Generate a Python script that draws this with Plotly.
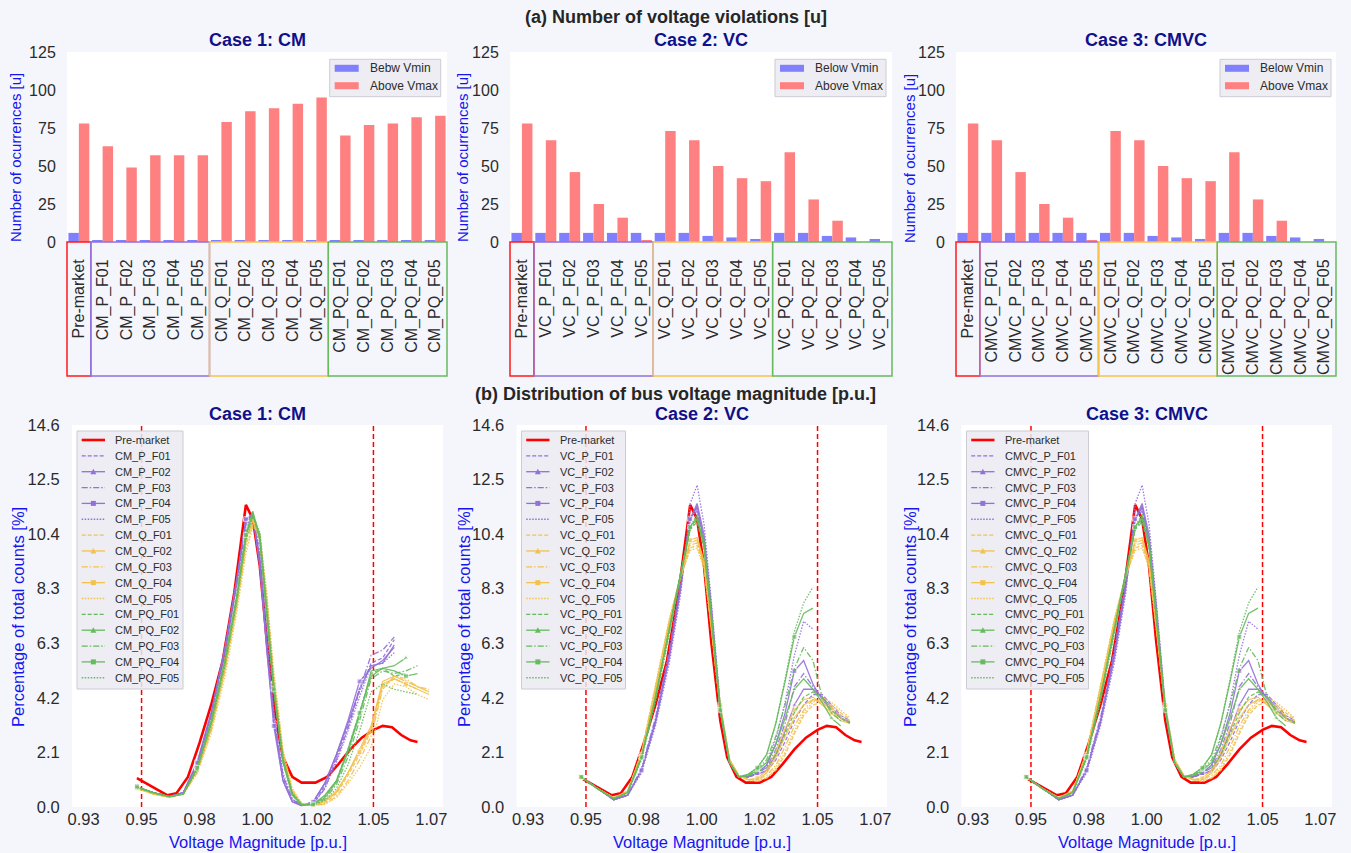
import plotly.graph_objects as go

W, H = 1351, 853

# ---------------- (a) bar data ----------------
CM_CATS = ["Pre-market", "CM_P_F01", "CM_P_F02", "CM_P_F03", "CM_P_F04", "CM_P_F05",
           "CM_Q_F01", "CM_Q_F02", "CM_Q_F03", "CM_Q_F04", "CM_Q_F05",
           "CM_PQ_F01", "CM_PQ_F02", "CM_PQ_F03", "CM_PQ_F04", "CM_PQ_F05"]
VC_CATS = ["Pre-market", "VC_P_F01", "VC_P_F02", "VC_P_F03", "VC_P_F04", "VC_P_F05",
           "VC_Q_F01", "VC_Q_F02", "VC_Q_F03", "VC_Q_F04", "VC_Q_F05",
           "VC_PQ_F01", "VC_PQ_F02", "VC_PQ_F03", "VC_PQ_F04", "VC_PQ_F05"]
CMVC_CATS = ["Pre-market", "CMVC_P_F01", "CMVC_P_F02", "CMVC_P_F03", "CMVC_P_F04", "CMVC_P_F05",
             "CMVC_Q_F01", "CMVC_Q_F02", "CMVC_Q_F03", "CMVC_Q_F04", "CMVC_Q_F05",
             "CMVC_PQ_F01", "CMVC_PQ_F02", "CMVC_PQ_F03", "CMVC_PQ_F04", "CMVC_PQ_F05"]

CM_BELOW = [6, 1, 1, 1, 1, 1, 1, 1, 1, 1, 1, 1, 1, 1, 1, 1]
CM_ABOVE = [78, 63, 49, 57, 57, 57, 79, 86, 88, 91, 95, 70, 77, 78, 82, 83]
VC_BELOW = [6, 6, 6, 6, 6, 6, 6, 6, 4, 3, 2, 6, 6, 4, 3, 2]
VC_ABOVE = [78, 67, 46, 25, 16, 1, 73, 67, 50, 42, 40, 59, 28, 14, 0, 0]
CMVC_BELOW = [6, 6, 6, 6, 6, 6, 6, 6, 4, 3, 2, 6, 6, 4, 3, 2]
CMVC_ABOVE = [78, 67, 46, 25, 16, 1, 73, 67, 50, 42, 40, 59, 28, 14, 0, 0]

BAR_Y_TICKS = [0, 25, 50, 75, 100, 125]

# ---------------- (b) distribution data ----------------
PRE_X = [0.948, 0.955, 0.961, 0.965, 0.970, 0.975, 0.980, 0.985, 0.990, 0.995, 0.998, 1.001,
         1.004, 1.008, 1.011, 1.015, 1.019, 1.025, 1.030, 1.035, 1.040, 1.045, 1.050, 1.054,
         1.058, 1.062, 1.066, 1.069]
PRE_Y = [1.1, 0.75, 0.45, 0.52, 1.15, 2.45, 3.9, 5.6, 8.2, 11.55, 11.0, 9.2,
         6.4, 3.3, 1.9, 1.15, 0.93, 0.93, 1.15, 1.65, 2.2, 2.65, 2.95, 3.1,
         3.05, 2.75, 2.55, 2.48]

X_CM = [0.948, 0.955, 0.962, 0.968, 0.974, 0.980, 0.986, 0.991, 0.995, 0.998, 1.001, 1.004,
        1.007, 1.011, 1.015, 1.019, 1.024, 1.029, 1.034, 1.039, 1.044, 1.049, 1.054, 1.059,
        1.064, 1.069, 1.074]
CM_P_F01 = [0.75, 0.55, 0.40, 0.55, 1.6, 3.5, 6.0, 8.6, 10.9, 11.2, 9.4, 6.2, 3.4, 1.1, 0.25, 0.06, 0.15, 0.8, 1.9, 3.1, 4.4, 5.5, 5.7, 6.4, None, None, None]
CM_P_F02 = [0.75, 0.55, 0.40, 0.55, 1.7, 3.6, 6.1, 8.7, 11.0, 11.1, 9.2, 6.0, 3.3, 1.0, 0.2, 0.05, 0.2, 0.9, 2.0, 3.2, 4.5, 5.4, 5.5, 6.2, None, None, None]
CM_P_F03 = [0.75, 0.55, 0.40, 0.55, 1.6, 3.5, 6.0, 8.5, 10.8, 11.3, 9.6, 6.4, 3.6, 1.2, 0.3, 0.07, 0.12, 0.7, 1.8, 3.0, 4.5, 5.8, 6.0, 6.5, None, None, None]
CM_P_F04 = [0.78, 0.55, 0.40, 0.55, 1.7, 3.6, 6.1, 8.6, 11.0, 11.2, 9.3, 6.0, 3.1, 1.0, 0.2, 0.06, 0.2, 0.9, 2.0, 3.3, 4.8, 5.3, 5.6, 6.1, None, None, None]
CM_P_F05 = [0.75, 0.55, 0.40, 0.55, 1.6, 3.4, 5.9, 8.4, 10.7, 11.2, 9.8, 6.6, 3.7, 1.3, 0.3, 0.08, 0.12, 0.7, 1.7, 2.9, 4.2, 5.4, 5.5, 5.9, None, None, None]
CM_Q_F01 = [0.72, 0.50, 0.38, 0.50, 1.4, 3.1, 5.4, 7.8, 10.0, 10.9, 10.2, 7.6, 4.7, 1.9, 0.55, 0.12, 0.06, 0.15, 0.5, 1.2, 2.0, 2.9, 4.6, 4.9, 4.7, 4.5, None]
CM_Q_F02 = [0.72, 0.50, 0.38, 0.50, 1.4, 3.0, 5.3, 7.7, 10.1, 11.0, 10.3, 7.8, 4.8, 2.0, 0.6, 0.12, 0.07, 0.2, 0.55, 1.3, 2.2, 3.1, 4.8, 5.0, 4.8, 4.6, 4.4]
CM_Q_F03 = [0.72, 0.50, 0.38, 0.50, 1.3, 2.9, 5.2, 7.6, 9.9, 10.8, 10.4, 8.0, 5.0, 2.1, 0.65, 0.14, 0.06, 0.12, 0.4, 1.0, 1.8, 2.7, 4.5, 5.0, 4.9, 4.6, 4.5]
CM_Q_F04 = [0.72, 0.50, 0.38, 0.50, 1.4, 3.0, 5.3, 7.8, 10.2, 11.0, 10.2, 7.7, 4.7, 1.9, 0.55, 0.12, 0.08, 0.25, 0.6, 1.3, 2.1, 3.0, 4.7, 4.9, 4.7, 4.5, 4.3]
CM_Q_F05 = [0.70, 0.50, 0.38, 0.48, 1.3, 2.8, 5.0, 7.4, 9.7, 10.7, 10.5, 8.2, 5.2, 2.2, 0.7, 0.15, 0.05, 0.1, 0.35, 0.9, 1.5, 2.3, 4.1, 4.7, 4.6, 4.3, 4.1]
CM_PQ_F01 = [0.75, 0.55, 0.40, 0.50, 1.5, 3.3, 5.7, 8.1, 10.5, 11.2, 10.2, 7.3, 4.4, 1.7, 0.45, 0.08, 0.1, 0.4, 1.0, 2.2, 3.6, 5.1, 5.3, 5.0, 5.1, None, None]
CM_PQ_F02 = [0.75, 0.55, 0.40, 0.50, 1.5, 3.2, 5.6, 8.0, 10.4, 11.3, 10.3, 7.4, 4.5, 1.8, 0.5, 0.08, 0.1, 0.35, 0.95, 2.1, 3.5, 5.2, 5.3, 5.4, 5.7, None, None]
CM_PQ_F03 = [0.75, 0.55, 0.40, 0.50, 1.5, 3.2, 5.5, 7.9, 10.3, 11.2, 10.4, 7.6, 4.6, 1.8, 0.5, 0.09, 0.08, 0.3, 0.85, 1.9, 3.3, 4.9, 5.2, 5.1, 5.2, 5.4, None]
CM_PQ_F04 = [0.78, 0.55, 0.40, 0.50, 1.5, 3.3, 5.6, 8.0, 10.4, 11.2, 10.3, 7.4, 4.5, 1.7, 0.45, 0.08, 0.1, 0.45, 1.0, 2.2, 3.6, 5.0, 5.3, 5.2, 5.0, 5.1, None]
CM_PQ_F05 = [0.75, 0.55, 0.40, 0.50, 1.4, 3.1, 5.4, 7.8, 10.2, 11.1, 10.5, 7.8, 4.8, 1.9, 0.55, 0.1, 0.07, 0.25, 0.7, 1.6, 2.9, 4.4, 4.7, 4.5, 4.4, 4.3, None]

X_VC = [0.948, 0.955, 0.962, 0.968, 0.974, 0.980, 0.986, 0.991, 0.995, 0.998, 1.001, 1.004,
        1.008, 1.012, 1.016, 1.020, 1.024, 1.028, 1.032, 1.036, 1.040, 1.044, 1.048, 1.052,
        1.056, 1.060, 1.064]
VC_P_F01 = [1.15, 0.70, 0.28, 0.45, 1.4, 3.3, 5.9, 8.6, 11.0, 11.4, 10.1, 7.4, 3.6, 1.7, 1.15, 1.15, 1.25, 1.35, 1.8, 2.5, 3.3, 3.9, 4.3, 4.3, 3.9, 3.5, 3.3]
VC_P_F02 = [1.15, 0.70, 0.28, 0.45, 1.4, 3.3, 5.8, 8.5, 11.0, 11.5, 10.2, 7.6, 3.7, 1.7, 1.15, 1.15, 1.25, 1.4, 2.0, 2.9, 3.9, 4.5, 4.5, 4.2, 3.8, 3.4, 3.25]
VC_P_F03 = [1.15, 0.70, 0.28, 0.45, 1.5, 3.4, 6.0, 8.7, 11.1, 11.3, 10.0, 7.3, 3.6, 1.7, 1.15, 1.15, 1.3, 1.5, 2.2, 3.2, 4.6, 5.1, 4.6, 4.2, 3.8, 3.4, 3.2]
VC_P_F04 = [1.15, 0.70, 0.28, 0.45, 1.4, 3.2, 5.7, 8.4, 11.0, 11.6, 10.4, 7.8, 3.8, 1.8, 1.15, 1.15, 1.3, 1.6, 2.4, 3.6, 5.2, 5.6, 4.7, 4.1, 3.7, 3.4, 3.2]
VC_P_F05 = [1.15, 0.70, 0.28, 0.45, 1.3, 3.1, 5.5, 8.2, 11.6, 12.3, 10.8, 8.0, 3.9, 1.8, 1.15, 1.15, 1.3, 1.6, 2.6, 4.0, 5.8, 7.1, 6.8, None, None, None, None]
VC_Q_F01 = [1.15, 0.70, 0.35, 0.60, 2.0, 4.4, 7.0, 8.8, 9.9, 10.0, 9.2, 7.0, 3.8, 1.8, 1.2, 1.05, 1.0, 1.1, 1.4, 2.0, 2.8, 3.5, 3.9, 4.0, 3.9, 3.6, 3.35]
VC_Q_F02 = [1.15, 0.70, 0.35, 0.60, 2.0, 4.5, 7.1, 8.9, 10.1, 10.2, 9.3, 7.0, 3.8, 1.8, 1.2, 1.05, 1.05, 1.3, 1.9, 2.7, 3.4, 3.9, 4.1, 4.0, 3.7, 3.4, 3.2]
VC_Q_F03 = [1.15, 0.70, 0.35, 0.60, 2.1, 4.6, 7.1, 8.8, 10.0, 10.1, 9.2, 6.9, 3.7, 1.8, 1.2, 1.05, 1.05, 1.2, 1.6, 2.3, 3.1, 3.7, 4.1, 4.1, 3.8, 3.5, 3.3]
VC_Q_F04 = [1.15, 0.70, 0.35, 0.60, 2.0, 4.4, 7.0, 8.9, 10.2, 10.3, 9.4, 7.1, 3.9, 1.8, 1.2, 1.05, 1.1, 1.4, 2.1, 3.0, 3.7, 4.1, 4.2, 3.9, 3.6, 3.3, 3.2]
VC_Q_F05 = [1.15, 0.70, 0.35, 0.60, 2.1, 4.6, 7.2, 8.9, 9.8, 9.9, 9.1, 6.9, 3.7, 1.8, 1.2, 1.05, 1.0, 1.1, 1.5, 2.1, 2.9, 3.6, 4.0, 4.2, 4.0, 3.7, 3.4]
VC_PQ_F01 = [1.15, 0.70, 0.32, 0.55, 1.9, 4.2, 6.8, 9.0, 10.6, 10.9, 9.9, 7.3, 3.7, 1.7, 1.15, 1.2, 1.35, 1.5, 2.0, 2.8, 3.6, 4.2, 4.4, 4.2, 3.7, 3.4, 3.2]
VC_PQ_F02 = [1.15, 0.70, 0.32, 0.55, 1.9, 4.2, 6.8, 9.0, 10.7, 11.0, 10.0, 7.4, 3.7, 1.7, 1.15, 1.2, 1.4, 1.7, 2.4, 3.4, 4.5, 4.9, 4.5, 4.0, 3.4, 3.1, None]
VC_PQ_F03 = [1.15, 0.70, 0.32, 0.55, 1.9, 4.1, 6.7, 8.9, 10.6, 11.0, 10.1, 7.5, 3.8, 1.7, 1.15, 1.2, 1.45, 1.8, 2.7, 3.9, 5.3, 6.1, 5.6, 4.2, 3.6, 3.3, None]
VC_PQ_F04 = [1.15, 0.70, 0.32, 0.55, 1.9, 4.2, 6.8, 9.0, 10.7, 11.1, 10.0, 7.4, 3.7, 1.7, 1.15, 1.25, 1.5, 2.0, 3.2, 4.8, 6.5, 7.4, 7.6, None, None, None, None]
VC_PQ_F05 = [1.15, 0.70, 0.32, 0.55, 1.8, 4.0, 6.6, 8.9, 10.7, 11.2, 10.2, 7.6, 3.8, 1.7, 1.15, 1.25, 1.5, 2.0, 3.2, 4.9, 6.7, 7.8, 8.4, None, None, None, None]

CM_SERIES = [CM_P_F01, CM_P_F02, CM_P_F03, CM_P_F04, CM_P_F05,
             CM_Q_F01, CM_Q_F02, CM_Q_F03, CM_Q_F04, CM_Q_F05,
             CM_PQ_F01, CM_PQ_F02, CM_PQ_F03, CM_PQ_F04, CM_PQ_F05]
VC_SERIES = [VC_P_F01, VC_P_F02, VC_P_F03, VC_P_F04, VC_P_F05,
             VC_Q_F01, VC_Q_F02, VC_Q_F03, VC_Q_F04, VC_Q_F05,
             VC_PQ_F01, VC_PQ_F02, VC_PQ_F03, VC_PQ_F04, VC_PQ_F05]
# Case 3 distributions are read as the same as case 2
CMVC_SERIES = VC_SERIES

X_TICKS = [0.925, 0.95, 0.975, 1.0, 1.025, 1.05, 1.075]
X_TICK_TEXT = ["0.93", "0.95", "0.98", "1.00", "1.02", "1.05", "1.07"]
Y_TICKS = [0.0, 2.0857, 4.1714, 6.2571, 8.3429, 10.4286, 12.5143, 14.6]
Y_TICK_TEXT = ["0.0", "2.1", "4.2", "6.3", "8.3", "10.4", "12.5", "14.6"]
V_LIMITS = [0.95, 1.05]

# ---------------- styles ----------------
FONT = "Arial, Liberation Sans, sans-serif"
PAPER = "#F5F6FC"
TICK_C = "#2b2b2b"
TITLE_C = "#10108A"
AX_C = "#1515F0"
PURPLE = "#9370DB"
YELLOW = "#F2C24E"
GREEN = "#66BB5E"
BLUE_BAR = "#8080FF"
RED_BAR = "#FF8080"
LEG_BG = "rgba(234,234,241,0.85)"
LEG_BORDER = "#CCCCD4"
GROUP_COLORS = [PURPLE] * 5 + [YELLOW] * 5 + [GREEN] * 5
DASHES = ["4px,2px", "solid", "6px,2px,1.5px,2px", "solid", "1.5px,1.5px"]
SYMBOLS = [None, "triangle-up", None, "square", None]

TOP_DOM = [(67, 447), (510, 892), (956, 1336)]
BOT_DOM = [(72, 443), (516.5, 887), (961.5, 1332)]
TOP_Y = (52, 242)
BOT_Y = (425, 807)


def fx(p):
    return p / W


def fy(p):
    return 1 - p / H


def note(text, x, y, size, color, angle=0, xanchor="center"):
    return dict(text=text, x=fx(x), y=fy(y), xref="paper", yref="paper",
                xanchor=xanchor, yanchor="middle", showarrow=False,
                textangle=angle, font=dict(size=size, color=color, family=FONT))


fig = go.Figure()
layout_upd = {}
shapes = []
annotations = []


def legend_box(x0, y0, w, h):
    shapes.append(dict(type="rect", xref="paper", yref="paper", layer="above",
                       x0=fx(x0), x1=fx(x0 + w), y0=fy(y0 + h), y1=fy(y0),
                       fillcolor=LEG_BG, line=dict(color=LEG_BORDER, width=1)))


def legend_line(x0, x1, y, color, width, dash, symbol):
    shapes.append(dict(type="line", xref="paper", yref="paper", layer="above",
                       x0=fx(x0), x1=fx(x1), y0=fy(y), y1=fy(y),
                       line=dict(color=color, width=width, dash=dash)))
    cx = (x0 + x1) / 2
    if symbol == "square":
        shapes.append(dict(type="rect", xref="paper", yref="paper", layer="above",
                           x0=fx(cx - 2.5), x1=fx(cx + 2.5), y0=fy(y + 2.5), y1=fy(y - 2.5),
                           fillcolor=color, line=dict(width=0)))
    elif symbol == "triangle-up":
        path = (f"M {fx(cx - 3)} {fy(y + 2.5)} L {fx(cx + 3)} {fy(y + 2.5)} "
                f"L {fx(cx)} {fy(y - 3)} Z")
        shapes.append(dict(type="path", xref="paper", yref="paper", layer="above",
                           path=path, fillcolor=color, line=dict(width=0)))


# ---------------- top row: bars ----------------
cases_top = [
    ("Case 1: CM", CM_CATS, CM_BELOW, CM_ABOVE, "Bebw Vmin"),
    ("Case 2: VC", VC_CATS, VC_BELOW, VC_ABOVE, "Below Vmin"),
    ("Case 3: CMVC", CMVC_CATS, CMVC_BELOW, CMVC_ABOVE, "Below Vmin"),
]
legend_right = [440.7, 886, 1331]

for i, (title, cats, below, above, bname) in enumerate(cases_top):
    n = i + 1
    xa = "x" if n == 1 else f"x{n}"
    ya = "y" if n == 1 else f"y{n}"
    fig.add_trace(go.Bar(x=cats, y=below, name=bname, marker_color=BLUE_BAR,
                         marker_line_width=0, xaxis=xa, yaxis=ya, showlegend=False))
    fig.add_trace(go.Bar(x=cats, y=above, name="Above Vmax", marker_color=RED_BAR,
                         marker_line_width=0, xaxis=xa, yaxis=ya, showlegend=False))
    d0, d1 = TOP_DOM[i]
    layout_upd[f"xaxis{'' if n == 1 else n}"] = dict(
        domain=[fx(d0), fx(d1)], anchor=ya, type="category", range=[-0.5, 15.5],
        tickangle=-90, tickfont=dict(size=16, color=TICK_C, family=FONT),
        ticks="outside", ticklen=10, tickcolor="rgba(0,0,0,0)", showgrid=False,
        showline=False, zeroline=False, fixedrange=True, automargin=False)
    layout_upd[f"yaxis{'' if n == 1 else n}"] = dict(
        domain=[fy(TOP_Y[1]), fy(TOP_Y[0])], anchor=xa, range=[0, 125],
        tickvals=BAR_Y_TICKS, tickfont=dict(size=16, color=TICK_C, family=FONT),
        ticks="outside", ticklen=7, tickcolor="rgba(0,0,0,0)", showgrid=False,
        zeroline=False, showline=False, fixedrange=True, automargin=False)
    # legend (drawn by hand so its size matches)
    lx0 = legend_right[i] - 111
    legend_box(lx0, 59.3, 111, 37.4)
    for r, (lab, col) in enumerate([(bname, BLUE_BAR), ("Above Vmax", RED_BAR)]):
        yy = 68.3 + r * 17.4
        shapes.append(dict(type="rect", xref="paper", yref="paper", layer="above",
                           x0=fx(lx0 + 5), x1=fx(lx0 + 29), y0=fy(yy + 3.5), y1=fy(yy - 3.5),
                           fillcolor=col, line=dict(width=0)))
        annotations.append(note(lab, lx0 + 38, yy, 12, TICK_C, xanchor="left"))
    # category group boxes
    slot = (d1 - d0) / 16.0
    for a, b, col in [(0, 1, "#FF1A1A"), (1, 6, PURPLE), (6, 11, "#F5C24A"), (11, 16, "#66BB5E")]:
        shapes.append(dict(type="rect", xref="paper", yref="paper",
                           x0=fx(d0 + a * slot), x1=fx(d0 + b * slot),
                           y0=fy(376), y1=fy(242),
                           line=dict(color=col, width=1.5), fillcolor="rgba(0,0,0,0)"))
    annotations.append(note(f"<b>{title}</b>", (d0 + d1) / 2, 40, 18, TITLE_C))
    annotations.append(note("Number of ocurrences [u]", [16, 463, 910][i], 158, 15, AX_C, -90))

# ---------------- bottom row: distributions ----------------
cases_bot = [
    ("Case 1: CM", "CM", X_CM, CM_SERIES, 106),
    ("Case 2: VC", "VC", X_VC, VC_SERIES, 104),
    ("Case 3: CMVC", "CMVC", X_VC, CMVC_SERIES, 122),
]
suffixes = ["P_F01", "P_F02", "P_F03", "P_F04", "P_F05",
            "Q_F01", "Q_F02", "Q_F03", "Q_F04", "Q_F05",
            "PQ_F01", "PQ_F02", "PQ_F03", "PQ_F04", "PQ_F05"]

for i, (title, prefix, xs, series, legw) in enumerate(cases_bot):
    n = i + 4
    xa, ya = f"x{n}", f"y{n}"
    d0, d1 = BOT_DOM[i]
    # voltage limit lines (under the data and the legend)
    for v in V_LIMITS:
        shapes.append(dict(type="line", xref=xa, yref=f"{ya} domain", x0=v, x1=v,
                           y0=0, y1=1, layer="below",
                           line=dict(color="#FF0000", width=1.5, dash="5px,3px")))
    lx0 = d0 + 5
    legend_box(lx0, 431, legw, 258)
    fig.add_trace(go.Scatter(x=PRE_X, y=PRE_Y, mode="lines", name="Pre-market",
                             line=dict(color="#FF0000", width=2.6), xaxis=xa, yaxis=ya,
                             showlegend=False))
    legend_line(lx0 + 4.7, lx0 + 28, 440, "#FF0000", 2.6, "solid", None)
    annotations.append(note("Pre-market", lx0 + 36, 440, 11, TICK_C, xanchor="left"))
    for k, ys in enumerate(series):
        col = GROUP_COLORS[k]
        j = k % 5
        name = f"{prefix}_{suffixes[k]}"
        sym = SYMBOLS[j]
        if sym:
            sizes = [5 if (q % 4 == 0) else 0 for q in range(len(xs))]
            fig.add_trace(go.Scatter(x=xs, y=ys, mode="lines+markers", name=name,
                                     line=dict(color=col, width=1.3, dash=DASHES[j]),
                                     marker=dict(symbol=sym, size=sizes, color=col),
                                     opacity=0.9, xaxis=xa, yaxis=ya, showlegend=False))
        else:
            fig.add_trace(go.Scatter(x=xs, y=ys, mode="lines", name=name,
                                     line=dict(color=col, width=1.3, dash=DASHES[j]),
                                     opacity=0.9, xaxis=xa, yaxis=ya, showlegend=False))
        yy = 440 + (k + 1) * 15.85
        legend_line(lx0 + 4.7, lx0 + 28, yy, col, 1.3, DASHES[j], sym)
        annotations.append(note(name, lx0 + 36, yy, 11, TICK_C, xanchor="left"))
    layout_upd[f"xaxis{n}"] = dict(
        domain=[fx(d0), fx(d1)], anchor=ya, range=[0.92, 1.08],
        tickvals=X_TICKS, ticktext=X_TICK_TEXT,
        tickfont=dict(size=16.5, color=TICK_C, family=FONT),
        ticks="", showgrid=False,
        zeroline=False, showline=False, fixedrange=True, automargin=False)
    layout_upd[f"yaxis{n}"] = dict(
        domain=[fy(BOT_Y[1]), fy(BOT_Y[0])], anchor=xa, range=[0, 14.6],
        tickvals=Y_TICKS, ticktext=Y_TICK_TEXT,
        tickfont=dict(size=16.5, color=TICK_C, family=FONT),
        ticks="outside", ticklen=8, tickcolor="rgba(0,0,0,0)", showgrid=False,
        zeroline=False, showline=False, fixedrange=True, automargin=False)
    annotations.append(note(f"<b>{title}</b>", (d0 + d1) / 2, 414, 18, TITLE_C))
    annotations.append(note("Percentage of total counts [%]", [18, 464, 910][i], 617, 16.5, AX_C, -90))
    annotations.append(note("Voltage Magnitude [p.u.]", (d0 + d1) / 2, 842, 16.5, AX_C))

annotations.append(note("<b>(a) Number of voltage violations [u]</b>", W / 2, 17, 18, "#262626"))
annotations.append(note("<b>(b) Distribution of bus voltage magnitude [p.u.]</b>", W / 2, 394, 18, "#262626"))

fig.update_layout(
    width=W, height=H, autosize=False,
    margin=dict(l=0, r=0, t=0, b=0, autoexpand=False),
    paper_bgcolor=PAPER, plot_bgcolor="#FFFFFF",
    barmode="group", bargap=0.12, bargroupgap=0.0,
    font=dict(family=FONT, color=TICK_C),
    showlegend=False,
    shapes=shapes, annotations=annotations,
    **layout_upd,
)

fig.write_html("out.html", post_script="document.body.style.margin='0';",
               config={"displayModeBar": False})
